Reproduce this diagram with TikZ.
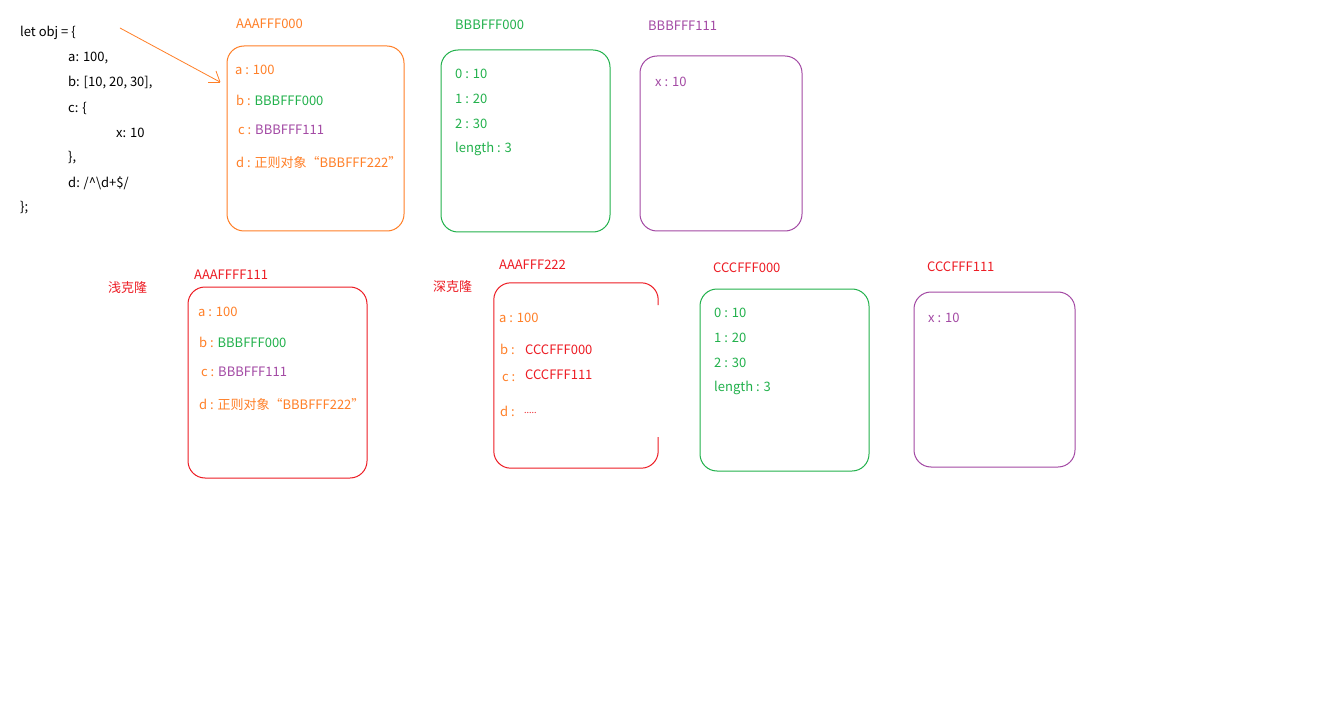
\documentclass[tikz,border=0pt]{standalone}
\usepackage{fontspec}
\setmainfont{Noto Sans CJK SC}
\definecolor{cOr}{RGB}{255,127,39}
\definecolor{cGr}{RGB}{34,177,76}
\definecolor{cPu}{RGB}{163,73,164}
\definecolor{cRd}{RGB}{237,28,36}
\begin{document}
\begin{tikzpicture}[x=1pt,y=-1pt,
  txt/.style={anchor=west,inner sep=0pt,font=\fontsize{13}{15}\selectfont},
  box/.style={draw,rounded corners=17pt,line width=1pt,inner sep=0pt},
]
\fill[white] (0,0) rectangle (1344,714);
\useasboundingbox (0,0) rectangle (1344,714);
% code
\node[txt] (l1) at (20,33) {let obj = \{};
\node[txt] (l2) at (68,58) {a: 100,};
\node[txt] (l3) at (68,83) {b: [10, 20, 30],};
\node[txt] (l4) at (68,108) {c: \{};
\node[txt] (l5) at (116,133) {x: 10};
\node[txt] (l6) at (68,158) {\},};
\node[txt] (l7) at (68,183) {d: /\^{}\textbackslash d+\$/};
\node[txt] (l8) at (20,208) {\};};
\coordinate (arS) at (120,28);
\coordinate (arE) at (220,82);
\draw[cOr,line width=0.8pt] (arS) -- (arE);
\draw[cOr,line width=0.8pt] (arE) -- ++(-12,0);
\draw[cOr,line width=0.8pt] (arE) -- ++(-4,-11);
% AAAFFF000
\node[txt,cOr] (t1) at (236,24) {AAAFFF000};
\node[box,cOr,minimum width=177pt,minimum height=185pt] (b1) at (315.5,138.5) {};
\node[txt,cOr] (b1a) at (235,70) {a : 100};
\node[txt,cOr] (b1b) at (236,100) {b : \textcolor{cGr}{BBBFFF000}};
\node[txt,cOr] (b1c) at (238,130) {c : \textcolor{cPu}{BBBFFF111}};
\node[txt,cOr] (b1d) at (236,163) {d : 正则对象“BBBFFF222”};
% BBBFFF000
\node[txt,cGr] (t2) at (455,25) {BBBFFF000};
\node[box,cGr,minimum width=169pt,minimum height=182pt] (b2) at (525.5,141) {};
\node[txt,cGr] (b2a) at (455,74) {0 : 10};
\node[txt,cGr] (b2b) at (455,99) {1 : 20};
\node[txt,cGr] (b2c) at (455,124) {2 : 30};
\node[txt,cGr] (b2d) at (455,149) {length : 3};
% BBBFFF111
\node[txt,cPu] (t3) at (648,26) {BBBFFF111};
\node[box,cPu,minimum width=162pt,minimum height=175pt] (b3) at (721,143.5) {};
\node[txt,cPu] (b3a) at (655,82) {x : 10};
% shallow
\node[txt,cRd] (s1) at (108,288) {浅克隆};
\node[txt,cRd] (t4) at (194,275) {AAAFFFF111};
\node[box,cRd,minimum width=179pt,minimum height=191pt] (b4) at (277.5,382.5) {};
\node[txt,cOr] (b4a) at (198,312) {a : 100};
\node[txt,cOr] (b4b) at (199,342) {b : \textcolor{cGr}{BBBFFF000}};
\node[txt,cOr] (b4c) at (201,372) {c : \textcolor{cPu}{BBBFFF111}};
\node[txt,cOr] (b4d) at (199,405) {d : 正则对象“BBBFFF222”};
% deep
\node[txt,cRd] (s2) at (433,287) {深克隆};
\node[txt,cRd] (t5) at (499,265) {AAAFFF222};
\node[inner sep=0pt,minimum width=164pt,minimum height=185pt] (b5) at (576,375.5) {};
\coordinate (g1) at (b5.east |- 0,305);
\coordinate (g2) at (b5.east |- 0,437);
\draw[cRd,line width=1pt,rounded corners=17pt] (g1) -- (b5.north east) -- (b5.north west) -- (b5.south west) -- (b5.south east) -- (g2);
\node[txt,cOr] (b5a) at (499,318) {a : 100};
\node[txt,cOr] (b5b) at (500,349) {b :};
\node[txt,cRd] (b5bv) at (525,350) {CCCFFF000};
\node[txt,cOr] (b5c) at (502,378) {c :};
\node[txt,cRd] (b5cv) at (525,375) {CCCFFF111};
\node[txt,cOr] (b5d) at (500,411) {d :};
\node[anchor=base west,inner sep=0pt,cRd,font=\fontsize{9}{10}\selectfont] (b5dv) at (524,413) {.....};
% CCCFFF000
\node[txt,cRd] (t6) at (713,268) {CCCFFF000};
\node[box,cGr,minimum width=169pt,minimum height=182pt] (b6) at (784.5,380) {};
\node[txt,cGr] (b6a) at (714,313) {0 : 10};
\node[txt,cGr] (b6b) at (714,338) {1 : 20};
\node[txt,cGr] (b6c) at (714,363) {2 : 30};
\node[txt,cGr] (b6d) at (714,388) {length : 3};
% CCCFFF111
\node[txt,cRd] (t7) at (927,267) {CCCFFF111};
\node[box,cPu,minimum width=161pt,minimum height=175pt] (b7) at (994.5,379.5) {};
\node[txt,cPu] (b7a) at (928,318) {x : 10};
\end{tikzpicture}
\end{document}
